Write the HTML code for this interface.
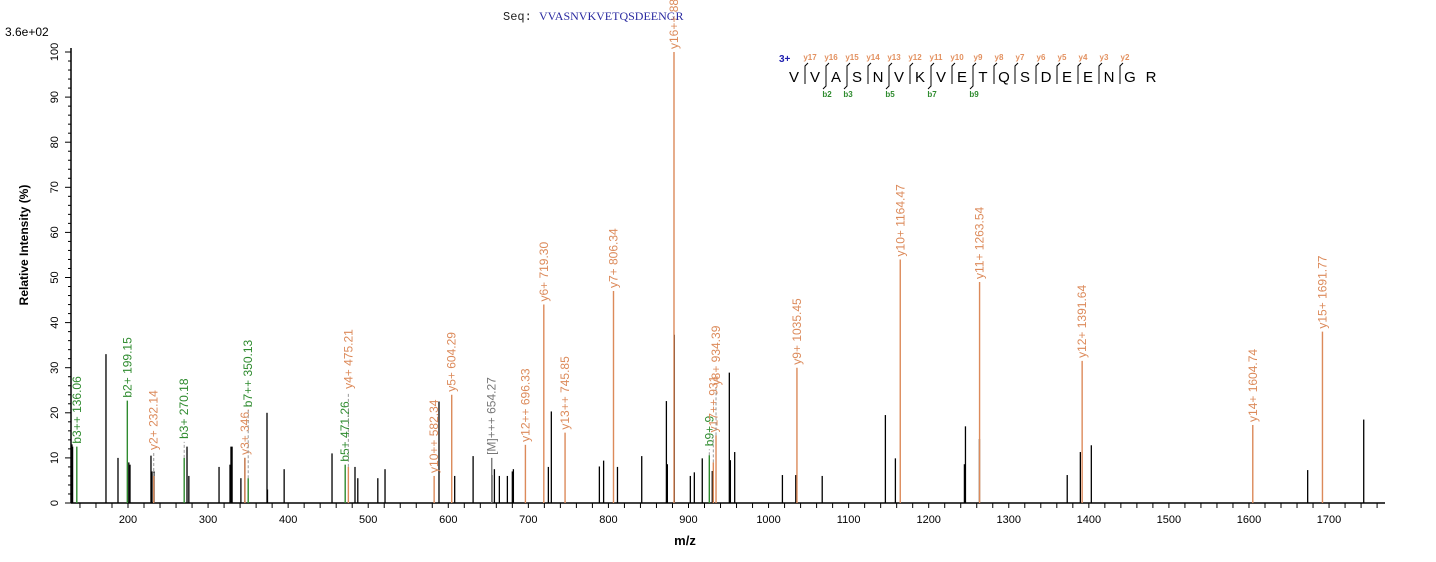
<!DOCTYPE html>
<html><head><meta charset="utf-8"><style>
body{margin:0;background:#fff;width:1436px;height:562px;overflow:hidden}
svg{display:block}
</style></head><body>
<svg id="chart" width="1436" height="562" xmlns="http://www.w3.org/2000/svg" font-family="Liberation Sans, Arial, sans-serif">
<text x="5" y="36" font-size="12" fill="#000">3.6e+02</text>
<text x="503" y="20" font-size="12" font-family="Liberation Mono, monospace" fill="#222">Seq: <tspan fill="#2a2aa0" font-family="Liberation Serif, serif">VVASNVKVETQSDEENGR</tspan></text>
<text transform="translate(28,245) rotate(-90)" text-anchor="middle" font-size="12" font-weight="bold">Relative  Intensity (%)</text>
<text x="685" y="545" text-anchor="middle" font-size="13" font-weight="bold">m/z</text>
<g id="axes"></g><g id="peaks"></g><g id="pep"></g>
</svg>
<script>
const blackMz=[130,130.8,172.5,187.5,201,202.5,228.7,230,232.5,273.7,276,313.7,327.4,328.6,330,341,346,373.6,374.2,395,454.8,483.5,487,512,521,588.4,608,631,654.6,657.6,663.8,673.8,680,681.3,725,728.7,788.7,794,811.3,841.6,872.4,873.6,882.3,902.3,907.3,917.2,929.7,951,952.3,957.7,1017.3,1034,1067,1145.9,1158.4,1244.6,1245.9,1263.4,1373,1389.4,1403.1,1673.3,1743.3];
const blackInt=[13,12.5,33,10,9,8.5,10.5,7,7,12.5,6,8,8.5,12.5,12.5,5.5,10,20,3,7.5,11,8,5.5,5.5,7.5,22.5,6,10.4,6.2,7.5,6,6,7,7.5,8,20.3,8.1,9.4,8,10.4,22.6,8.6,37.3,6,6.8,9.9,7.1,28.9,9.5,11.3,6.2,6.2,6,19.5,9.9,8.6,17,14.2,6.2,11.3,12.8,7.3,18.5];
const ionLabels=["b3++ 136.06","b2+ 199.15","y2+ 232.14","b3+ 270.18","y3+ 346.","b7++ 350.13","b5+ 471.26","y4+ 475.21","y10++ 582.34","y5+ 604.29","[M]+++ 654.27","y12++ 696.33","y6+ 719.30","y13++ 745.85","y7+ 806.34","y16++ 881.9","b9+ 9","y17++ 931.","y8+ 934.39","y9+ 1035.45","y10+ 1164.47","y11+ 1263.54","y12+ 1391.64","y14+ 1604.74","y15+ 1691.77"];
const ionMz=[136.06,199.15,232.14,270.18,346,350.13,471.26,475.21,582.34,604.29,654.27,696.33,719.30,745.85,806.34,881.9,926,931,934.39,1035.45,1164.47,1263.54,1391.64,1604.74,1691.77];
const ionInt=[12.5,22.7,6,10,10,5.5,8.5,8,6,24,10,12.9,44,15.6,47,100,10.6,9,15,30,54,49,31.5,17.3,38];
const ionType=["b","b","y","b","y","b","b","y","y","y","m","y","y","y","y","y","b","y","y","y","y","y","y","y","y"];
const labelLift={"y2+ 232.14":23,"b3+ 270.18":16,"b7++ 350.13":68,"y4+ 475.21":75,"y17++ 931.":27,"y8+ 934.39":47,"b9+ 9":6};
const xTicks=[200,300,400,500,600,700,800,900,1000,1100,1200,1300,1400,1500,1600,1700];
const yTicks=[0,10,20,30,40,50,60,70,80,90,100];

const NS="http://www.w3.org/2000/svg";
const X=m=>128+(m-200)*0.8007;
const Y=v=>503-4.51*v;
function mk(tag,attrs,parent){const e=document.createElementNS(NS,tag);for(const k in attrs)e.setAttribute(k,attrs[k]);parent.appendChild(e);return e;}
const axes=document.getElementById('axes');
let l=mk('line',{x1:71,y1:503,x2:1385,y2:503,stroke:'#000','stroke-width':1.5},axes);


l=mk('line',{x1:71,y1:48,x2:71,y2:503,stroke:'#000','stroke-width':1.5},axes);


for(let m=140;m<=1760;m+=20){const x=X(m);if(x<71||x>1385)continue;
 const t=mk('line',{x1:x,y1:503,x2:x,y2:508,stroke:'#000'},axes);
 
 }
xTicks.forEach(v=>{const t=mk('text',{x:X(v),y:523,'text-anchor':'middle','font-size':11},axes);t.textContent=v;
 
 });
for(let v=0;v<=100;v+=2){const y=Y(v);const len=v%10===0?6:3;
 const t=mk('line',{x1:71-len,y1:y,x2:71,y2:y,stroke:'#000'},axes);
 
 }
yTicks.forEach(v=>{const t=mk('text',{transform:`translate(58,${Y(v)}) rotate(-90)`,'text-anchor':'middle','font-size':11},axes);t.textContent=v;
 
 });
const pk=document.getElementById('peaks');
blackMz.forEach((m,i)=>{const p=mk('line',{x1:X(m),y1:503,x2:X(m),y2:Y(blackInt[i]),stroke:'#000','stroke-width':1.3},pk);
 
 });
const col={b:'#2e8b2e',y:'#dc8a5a',m:'#777'};
ionMz.forEach((m,i)=>{const x=X(m),top=Y(ionInt[i]);const c=col[ionType[i]];
 const p=mk('line',{x1:x,y1:503,x2:x,y2:top,stroke:c,'stroke-width':1.4},pk);
 
 
 const lift=labelLift[ionLabels[i]]||0;
 if(lift){const d=mk('line',{x1:x,y1:top,x2:x,y2:top-lift,stroke:'#999','stroke-dasharray':'3,2'},pk);
  
  }
 const t=mk('text',{transform:`translate(${x+4},${top-lift-3}) rotate(-90)`,'font-size':12,fill:c},pk);
 t.textContent=ionLabels[i];
 
 });
// peptide fragment map
const pep=document.getElementById('pep');
const seq="VVASNVKVETQSDEENGR".split("");
const bIdx=[2,3,5,7,9];
let t=mk('text',{x:779,y:62,'font-size':10,'font-weight':'bold',fill:'#2020b0'},pep);t.textContent='3+';


seq.forEach((s,i)=>{const x=794+21*i;const e=mk('text',{x:x,y:82,'font-size':15,'text-anchor':'middle'},pep);e.textContent=s;
 
 
 if(i>=1&&i<=16){const bx=x-10;
  const hasB=bIdx.includes(i);
  const ln=mk('path',{d:`M${bx+3},63 L${bx},66 L${bx},${hasB?86:84}`+(hasB?` L${bx-3},89`:''),stroke:'#000',fill:'none','stroke-width':1},pep);
  
  
  const yl=mk('text',{x:bx+5,y:60,'font-size':8,fill:'#e39160','font-weight':'bold','text-anchor':'middle'},pep);yl.textContent='y'+(18-i);
  
  
  if(hasB){const bl=mk('text',{x:bx+1,y:97,'font-size':8,fill:'#2e8b2e','font-weight':'bold','text-anchor':'middle'},pep);bl.textContent='b'+i;
   
   }
 }});
</script>
</body></html>
